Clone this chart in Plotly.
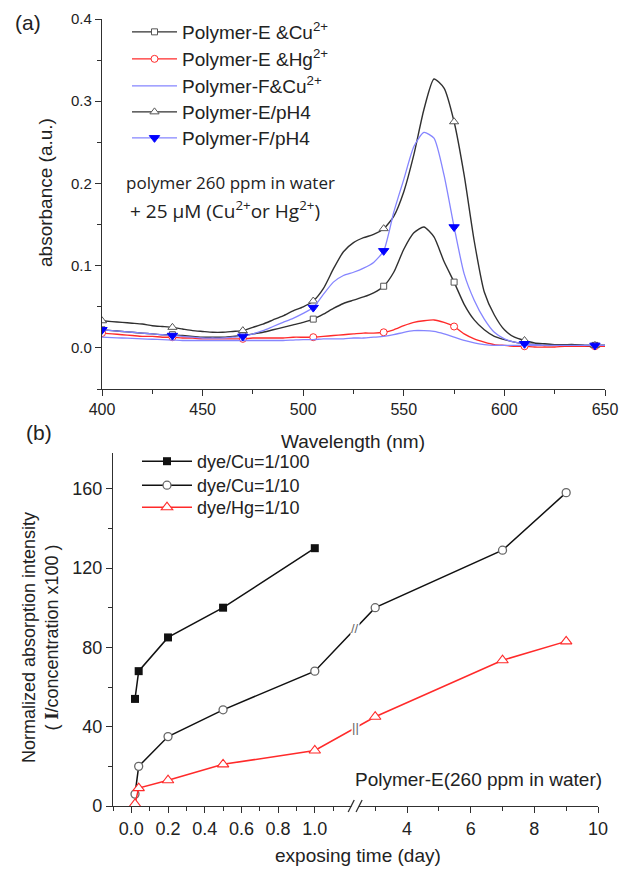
import numpy as np
import plotly.graph_objects as go

# page body adds an 8px margin; the figure is sized to fill the rest of the 631x869 window
OFF = 8
W, H = 631 - OFF, 869 - OFF

# ---------------- panel (a) data ----------------
wavelength = [400, 405, 410, 415, 420, 425, 430, 435, 440, 445, 450, 455, 460, 465, 470, 475,
              480, 485, 490, 495, 500, 505, 510, 515, 520, 525, 530, 535, 540, 545, 550, 555,
              560, 565, 570, 575, 580, 585, 590, 595, 600, 605, 610, 615, 620, 625, 630, 635,
              640, 645, 650]

e_cu = [0.022, 0.021, 0.020, 0.019, 0.018, 0.017, 0.016, 0.016, 0.015, 0.014, 0.013, 0.013, 0.013, 0.014, 0.015, 0.017,
        0.019, 0.022, 0.025, 0.028, 0.031, 0.035, 0.041, 0.048, 0.054, 0.058, 0.062, 0.067, 0.075, 0.092, 0.120, 0.140,
        0.147, 0.135, 0.105, 0.080, 0.053, 0.034, 0.022, 0.014, 0.010, 0.007, 0.005, 0.004, 0.003, 0.003, 0.003, 0.003,
        0.003, 0.003, 0.003]

e_hg = [0.018, 0.017, 0.016, 0.015, 0.014, 0.014, 0.013, 0.013, 0.012, 0.012, 0.011, 0.011, 0.011, 0.011, 0.011, 0.012,
        0.012, 0.012, 0.012, 0.013, 0.013, 0.013, 0.014, 0.015, 0.016, 0.017, 0.018, 0.018, 0.019, 0.022, 0.027, 0.031,
        0.033, 0.034, 0.031, 0.026, 0.017, 0.011, 0.007, 0.004, 0.003, 0.002, 0.002, 0.001, 0.001, 0.001, 0.002, 0.002,
        0.002, 0.002, 0.002]

f_cu = [0.013, 0.0125, 0.012, 0.0115, 0.011, 0.0105, 0.010, 0.0095, 0.009, 0.009, 0.009, 0.009, 0.009, 0.009, 0.009, 0.009,
        0.009, 0.009, 0.009, 0.0095, 0.010, 0.010, 0.011, 0.011, 0.011, 0.012, 0.012, 0.013, 0.014, 0.016, 0.019, 0.021,
        0.021, 0.020, 0.017, 0.013, 0.009, 0.006, 0.004, 0.003, 0.003, 0.003, 0.003, 0.003, 0.003, 0.003, 0.003, 0.003,
        0.003, 0.003, 0.003]

e_ph4 = [0.033, 0.032, 0.031, 0.030, 0.029, 0.027, 0.026, 0.025, 0.023, 0.021, 0.020, 0.019, 0.019, 0.020, 0.021, 0.025,
         0.029, 0.034, 0.039, 0.045, 0.050, 0.057, 0.072, 0.096, 0.117, 0.128, 0.134, 0.138, 0.145, 0.160, 0.190, 0.235,
         0.290, 0.327, 0.316, 0.275, 0.210, 0.130, 0.068, 0.040, 0.022, 0.013, 0.009, 0.006, 0.005, 0.004, 0.004, 0.004,
         0.003, 0.003, 0.003]

f_ph4 = [0.022, 0.021, 0.020, 0.019, 0.018, 0.017, 0.016, 0.015, 0.014, 0.013, 0.012, 0.012, 0.012, 0.013, 0.014, 0.017,
         0.021, 0.026, 0.031, 0.036, 0.042, 0.049, 0.065, 0.080, 0.088, 0.092, 0.097, 0.104, 0.118, 0.165, 0.205, 0.245,
         0.262, 0.255, 0.210, 0.147, 0.090, 0.058, 0.035, 0.019, 0.011, 0.007, 0.005, 0.004, 0.003, 0.003, 0.003, 0.003,
         0.003, 0.003, 0.003]

a_xticks = [400, 450, 500, 550, 600, 650]
a_yticks = [0.0, 0.1, 0.2, 0.3, 0.4]

# ---------------- panel (b) data ----------------
days_cu100 = [0.02, 0.04, 0.2, 0.5, 1.0]
cu100 = [54, 68, 85, 100, 130]
days_10 = [0.02, 0.04, 0.2, 0.5, 1.0, 3, 7, 9]
cu10 = [6, 20, 35, 48.5, 68, 100, 129, 158]
hg10 = [1, 9, 13, 21, 28, 45, 73.5, 83]
b_left_ticks = [0.0, 0.2, 0.4, 0.6, 0.8, 1.0]
b_right_ticks = [4, 6, 8, 10]
b_yticks = [0, 40, 80, 120, 160]

# broken-axis mapping for panel (b)
BREAK_U = 1.22     # display position of the break
R0 = 2.37          # first day value shown on the right of the break
K = 0.1735         # compression of the right segment


def to_u(x):
    x = np.asarray(x, dtype=float)
    return np.where(x <= BREAK_U, x, BREAK_U + (x - R0) * K)


def px_x(p):
    return (p - OFF) / W


def px_y(p):
    return 1 - (p - OFF) / H


FONT = "Liberation Sans, Arial, sans-serif"
DARK = "#303030"
GRAY = "#555555"
RED = "#ff2a2a"
LBLUE = "#8585ff"
BLUE = "#0000ff"

fig = go.Figure()

step = 7  # markers every 35 nm
wl = np.array(wavelength)

top_rows = [32, 59, 86, 112, 138]   # legend row centres (px)
bot_rows = [462, 486, 508]
LEG_OFF = 19


def add_series(y, name, color, lw, symbol, mcolor, mfill, msize, legname):
    y = np.array(y)
    fig.add_trace(go.Scatter(x=wl, y=y, mode="lines", line=dict(color=color, width=lw, shape="spline", smoothing=0.6),
                             showlegend=False, xaxis="x", yaxis="y", hoverinfo="skip"))
    if symbol is not None:
        fig.add_trace(go.Scatter(x=wl[::step], y=y[::step], mode="markers", showlegend=False,
                                 marker=dict(symbol=symbol, size=msize, color=mfill,
                                             line=dict(color=mcolor, width=1)),
                                 xaxis="x", yaxis="y"))
        fig.add_trace(go.Scatter(x=[None], y=[None], mode="lines+markers", name=name,
                                 line=dict(color=color, width=lw),
                                 marker=dict(symbol=symbol, size=msize, color=mfill, line=dict(color=mcolor, width=1)),
                                 legend=legname, xaxis="x", yaxis="y"))
    else:
        fig.add_trace(go.Scatter(x=[None], y=[None], mode="lines", name=name,
                                 line=dict(color=color, width=lw), legend=legname,
                                 xaxis="x", yaxis="y"))


add_series(e_cu, "Polymer-E &Cu<sup>2+</sup>", DARK, 1.4, "square", GRAY, "white", 6, "legend")
add_series(e_hg, "Polymer-E &Hg<sup>2+</sup>", RED, 1.4, "circle", RED, "white", 7, "legend2")
add_series(f_cu, "Polymer-F&Cu<sup>2+</sup>", LBLUE, 1.3, None, None, None, 0, "legend3")
add_series(e_ph4, "Polymer-E/pH4", DARK, 1.4, "triangle-up", GRAY, "white", 8, "legend4")
add_series(f_ph4, "Polymer-F/pH4", LBLUE, 1.3, "triangle-down", BLUE, BLUE, 9, "legend5")

# ---------------- panel (b) traces ----------------
fig.add_trace(go.Scatter(x=to_u(days_cu100), y=cu100, mode="lines+markers", name="dye/Cu=1/100",
                         line=dict(color="#111111", width=1.5),
                         marker=dict(symbol="square", size=8, color="#111111"),
                         xaxis="x2", yaxis="y2", legend="legend6"))
fig.add_trace(go.Scatter(x=to_u(days_10), y=cu10, mode="lines+markers", name="dye/Cu=1/10",
                         line=dict(color="#111111", width=1.5),
                         marker=dict(symbol="circle", size=8, color="white", line=dict(color="#666666", width=1.3)),
                         xaxis="x2", yaxis="y2", legend="legend7"))
fig.add_trace(go.Scatter(x=to_u(days_10), y=hg10, mode="lines+markers", name="dye/Hg=1/10",
                         line=dict(color=RED, width=1.5),
                         marker=dict(symbol="triangle-up", size=10, color="white", line=dict(color=RED, width=1.1)),
                         xaxis="x2", yaxis="y2", legend="legend8"))

u10 = to_u(days_10)
y_break_cu = float(np.interp(BREAK_U, u10, cu10))
y_break_hg = float(np.interp(BREAK_U, u10, hg10))

# ---------------- layout ----------------
axis_common = dict(showline=True, linecolor=DARK, linewidth=1.3, ticks="outside", tickcolor=DARK,
                   tickwidth=1.2, ticklen=6, showgrid=False, zeroline=False, mirror=False, automargin=False)
minor_common = dict(ticks="outside", ticklen=3.5, tickcolor=DARK, tickwidth=1.2, showgrid=False)


def leg(xpx, row, itemwidth, size):
    return dict(x=px_x(xpx), y=px_y(row - LEG_OFF), xanchor="left", yanchor="top", bgcolor="rgba(0,0,0,0)",
                font=dict(size=size, family=FONT, color="#222222"), itemwidth=itemwidth, borderwidth=0)


legends = {}
legends["legend"] = leg(127, top_rows[0], 45, 19)
for i, r in enumerate(top_rows[1:]):
    legends[f"legend{i + 2}"] = leg(127, r, 45, 19)
for i, r in enumerate(bot_rows):
    legends[f"legend{i + 6}"] = leg(137, r, 50, 18)

fig.update_layout(
    template="none",
    width=W, height=H, margin=dict(l=0, r=0, t=0, b=0, pad=0, autoexpand=False),
    paper_bgcolor="white", plot_bgcolor="white",
    font=dict(family=FONT, color="#222222"),
    xaxis=dict(domain=[px_x(102), px_x(605)], range=[400, 650], anchor="y",
               tickvals=a_xticks, tickfont=dict(size=16),
               minor=dict(tickvals=[425, 475, 525, 575, 625], **minor_common),
               **axis_common),
    yaxis=dict(domain=[px_y(389), px_y(19)], range=[-0.05, 0.4], anchor="x",
               tickvals=a_yticks, tickformat=".1f", tickfont=dict(size=15),
               minor=dict(tickvals=[-0.05, 0.05, 0.15, 0.25, 0.35], **minor_common),
               **axis_common),
    xaxis2=dict(domain=[px_x(113), px_x(598)], range=[-0.1, float(to_u(10))], anchor="y2",
                tickvals=list(b_left_ticks) + list(to_u(b_right_ticks)),
                ticktext=[f"{v:.1f}" for v in b_left_ticks] + [str(v) for v in b_right_ticks],
                tickfont=dict(size=18),
                minor=dict(tickvals=[-0.1, 0.1, 0.3, 0.5, 0.7, 0.9, 1.1] + list(to_u([3, 5, 7, 9])), **minor_common),
                **axis_common),
    yaxis2=dict(domain=[px_y(806), px_y(453)], range=[0, 178], anchor="x2",
                tickvals=b_yticks, tickfont=dict(size=18),
                minor=dict(tickvals=[20, 60, 100, 140], **minor_common),
                **axis_common),
    **legends,
)


def text(t, xpx, ypx, size, angle=0, family=FONT):
    return dict(text=t, x=px_x(xpx), y=px_y(ypx), xref="paper", yref="paper", showarrow=False,
                xanchor="center", yanchor="middle", textangle=angle,
                font=dict(size=size, family=family, color="#222222"))


ann = [
    text("(a)", 28, 23, 21),
    text("(b)", 39, 433, 21),
    text("absorbance (a.u.)", 45, 193, 19, -90),
    text("Wavelength (nm)", 353, 442, 19),
    text("polymer 260 ppm in water", 230, 182, 17, family="Open Sans, sans-serif"),
    text("+ 25 μM (Cu<sup>2+</sup>or Hg<sup>2+</sup>)", 225, 210, 19, family="Open Sans, sans-serif"),
    text("Normalized absorption intensity<br>( <b><span style='font-family:Liberation Serif'>I</span></b>/concentration x100 )",
         40, 638, 18, -90),
    text("exposing time (day)", 358, 855, 19),
    text("Polymer-E(260 ppm in water)", 478, 779, 19),
]
# break marks on data lines
ann.append(dict(text="//", x=BREAK_U, y=y_break_cu, xref="x2", yref="y2", showarrow=False,
                xanchor="center", yanchor="middle",
                font=dict(size=13, family=FONT, color="#666666"), bgcolor="white", borderpad=0))
ann.append(dict(text="||", x=BREAK_U, y=y_break_hg, xref="x2", yref="y2", showarrow=False,
                xanchor="center", yanchor="middle",
                font=dict(size=13, family=FONT, color="#666666"), bgcolor="white", borderpad=0))
fig.update_layout(annotations=ann)

# axis break on panel (b) x-axis
y0 = px_y(806)
dy = 6 / H
shapes = [
    dict(type="rect", xref="x2", yref="paper", x0=BREAK_U - 0.02, x1=BREAK_U + 0.02, y0=y0 - 2 / H, y1=y0 + 2 / H,
         fillcolor="white", line=dict(width=0)),
    dict(type="line", xref="x2", yref="paper", x0=BREAK_U - 0.038, x1=BREAK_U - 0.005, y0=y0 - dy, y1=y0 + dy,
         line=dict(color=DARK, width=1.3)),
    dict(type="line", xref="x2", yref="paper", x0=BREAK_U + 0.005, x1=BREAK_U + 0.038, y0=y0 - dy, y1=y0 + dy,
         line=dict(color=DARK, width=1.3)),
]
fig.update_layout(shapes=shapes)

fig.write_html("out.html")
